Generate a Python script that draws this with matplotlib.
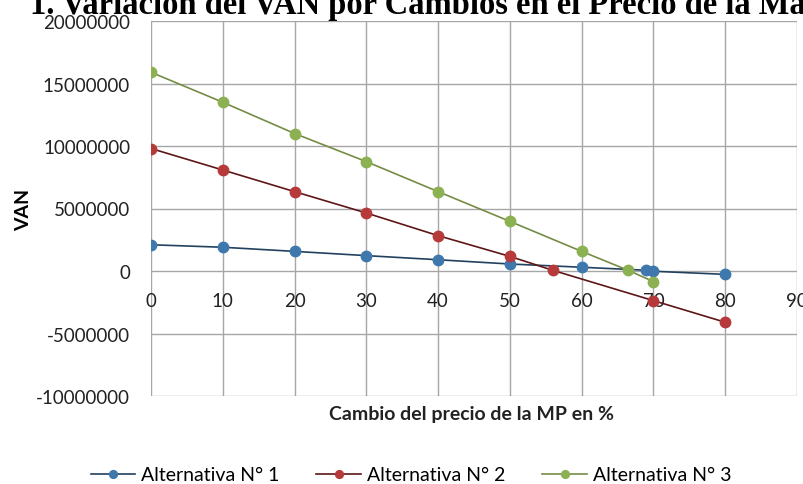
import matplotlib
matplotlib.use("Agg")
import matplotlib.pyplot as plt
from matplotlib.ticker import MultipleLocator

# cambio del precio de la MP (%) y VAN de cada alternativa
x_alt1 = [0, 10, 20, 30, 40, 50, 60, 69, 70, 80]
van_alt1 = [2100000, 1900000, 1570000, 1230000, 900000, 560000, 300000, 60000, -20000, -270000]

x_alt2 = [0, 10, 20, 30, 40, 50, 56, 70, 80]
van_alt2 = [9800000, 8080000, 6350000, 4640000, 2830000, 1170000, 50000, -2370000, -4100000]

x_alt3 = [0, 10, 20, 30, 40, 50, 60, 66.5, 70]
van_alt3 = [15900000, 13500000, 11000000, 8750000, 6350000, 3970000, 1570000, 50000, -850000]

labels = ["Alternativa N° 1", "Alternativa N° 2", "Alternativa N° 3"]
x_ticks = [0, 10, 20, 30, 40, 50, 60, 70, 80, 90]

plt.rcParams["font.family"] = ["Lato", "DejaVu Sans"]
plt.rcParams["axes.unicode_minus"] = False

fig = plt.figure(figsize=(8.04, 4.85), dpi=100)
W, H = 804, 485
ax = fig.add_axes([151 / W, (H - 397) / H, (797 - 151) / W, (397 - 22) / H])

series = [
    (x_alt1, van_alt1, "#3F78AD", "#23415F"),
    (x_alt2, van_alt2, "#B73A3A", "#5E1616"),
    (x_alt3, van_alt3, "#8CB153", "#758C45"),
]
for (xs, ys, mcol, lcol), lab in zip(series, labels):
    ax.plot(xs, ys, color=lcol, lw=1.2, marker="o", ms=7.5,
            markerfacecolor=mcol, markeredgecolor=mcol, label=lab, zorder=3)

ax.set_xlim(0, 90)
ax.set_ylim(-10000000, 20000000)
ax.set_xticks(x_ticks)
ax.yaxis.set_major_locator(MultipleLocator(5000000))
ax.ticklabel_format(axis="y", style="plain", useOffset=False)

ax.grid(True, color="#A6A6A6", lw=1.0, zorder=0)
for s in ax.spines.values():
    s.set_visible(False)
ax.spines["bottom"].set_position(("data", 0))

ax.tick_params(axis="both", length=0, labelsize=13.5, colors="#222222")
ax.tick_params(axis="x", pad=15)
ax.tick_params(axis="y", pad=15)

ax.set_ylabel("VAN", fontsize=14, fontweight="bold")
ax.yaxis.set_label_coords(-119 / 646, 0.5)

fig.text(472 / W, 1 - 415 / H, "Cambio del precio de la MP en %", ha="center",
         va="center", fontsize=14, fontweight="bold", color="#222222")

fig.text(30 / W, 1 - 14 / H,
         "1. Variación del VAN por Cambios en el Precio de la Materia Prima",
         ha="left", va="baseline", fontsize=23.5, fontweight="bold",
         family=["Liberation Serif", "DejaVu Serif"])

fig.legend(loc="center", bbox_to_anchor=(411 / W, 1 - 476 / H), ncol=3,
           frameon=False, fontsize=14, handlelength=2.3, columnspacing=1.9,
           handletextpad=0.3, markerscale=0.75)

fig.savefig("out.png", dpi=100)
